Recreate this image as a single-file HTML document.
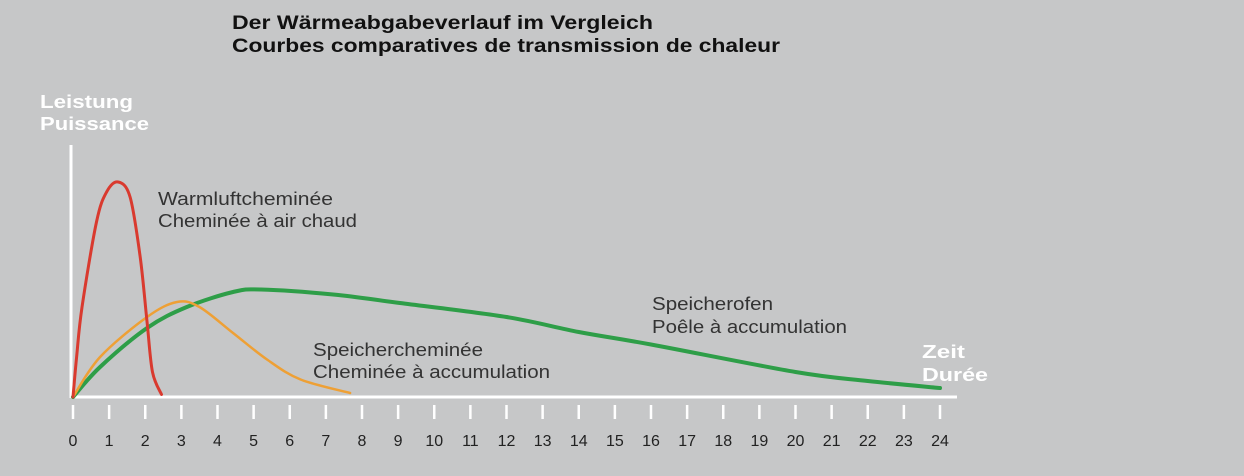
<!DOCTYPE html>
<html><head><meta charset="utf-8"><style>
body{margin:0;background:#c6c7c8;}
svg{display:block;font-family:"Liberation Sans",sans-serif;}
</style></head><body>
<svg width="1244" height="476" viewBox="0 0 1244 476">
<rect width="1244" height="476" fill="#c6c7c8"/>
<text x="232" y="29" font-size="19" font-weight="bold" fill="#111" textLength="421" lengthAdjust="spacingAndGlyphs">Der Wärmeabgabeverlauf im Vergleich</text>
<text x="232" y="52" font-size="19" font-weight="bold" fill="#111" textLength="548" lengthAdjust="spacingAndGlyphs">Courbes comparatives de transmission de chaleur</text>
<text x="40" y="108" font-size="18" font-weight="bold" fill="#fff" textLength="93" lengthAdjust="spacingAndGlyphs">Leistung</text>
<text x="40" y="130" font-size="18" font-weight="bold" fill="#fff" textLength="109" lengthAdjust="spacingAndGlyphs">Puissance</text>
<text x="922" y="358" font-size="18" font-weight="bold" fill="#fff" textLength="43" lengthAdjust="spacingAndGlyphs">Zeit</text>
<text x="922" y="381" font-size="18" font-weight="bold" fill="#fff" textLength="66" lengthAdjust="spacingAndGlyphs">Durée</text>
<line x1="71" y1="145" x2="71" y2="398" stroke="#fff" stroke-width="3"/>
<line x1="71" y1="397" x2="957" y2="397" stroke="#fff" stroke-width="3"/>
<g id="ticks"></g>
<g id="series"></g>
<text x="158" y="205" font-size="18" fill="#333" textLength="175" lengthAdjust="spacingAndGlyphs">Warmluftcheminée</text>
<text x="158" y="227" font-size="18" fill="#333" textLength="199" lengthAdjust="spacingAndGlyphs">Cheminée à air chaud</text>
<text x="313" y="356" font-size="18" fill="#333" textLength="170" lengthAdjust="spacingAndGlyphs">Speichercheminée</text>
<text x="313" y="378" font-size="18" fill="#333" textLength="237" lengthAdjust="spacingAndGlyphs">Cheminée à accumulation</text>
<text x="652" y="310" font-size="18" fill="#333" textLength="121" lengthAdjust="spacingAndGlyphs">Speicherofen</text>
<text x="652" y="333" font-size="18" fill="#333" textLength="195" lengthAdjust="spacingAndGlyphs">Poêle à accumulation</text>
</svg>
<script>
const tickLabels=[0,1,2,3,4,5,6,7,8,9,10,11,12,13,14,15,16,17,18,19,20,21,22,23,24];
const redT=[0,0.1,0.25,0.65,0.93,1.25,1.58,1.86,2.05,2.2,2.45];
const redV=[0,16,36,70,82,86,80,56,30,10,1];
const orangeT=[0,0.75,2.05,2.88,3.5,4.43,5.37,6.3,7.67];
const orangeV=[0,16,32,38,36,25.6,15,7,1.6];
const greenT=[0,0.75,2.05,3.15,4.43,5.2,7.2,9.05,12,14,16,20,22,24];
const greenV=[0,12,27.6,36,42,43,41,37.6,32,26,21,10,6.4,3.6];
const NS="http://www.w3.org/2000/svg";
function xs(t){return 73+t*(940-73)/24;}
function ys(v){return 397-v*2.5;}
const tg=document.getElementById('ticks');
tickLabels.forEach(t=>{
 const l=document.createElementNS(NS,'line');
 l.setAttribute('x1',xs(t));l.setAttribute('x2',xs(t));l.setAttribute('y1',405);l.setAttribute('y2',419);
 l.setAttribute('stroke','#fff');l.setAttribute('stroke-width','2.5');
 
 
 tg.appendChild(l);
 const tx=document.createElementNS(NS,'text');
 tx.setAttribute('x',xs(t));tx.setAttribute('y',446);tx.setAttribute('text-anchor','middle');
 tx.setAttribute('font-size','16');tx.setAttribute('fill','#222');tx.textContent=t;
 
 
 tg.appendChild(tx);
});
function path(T,V){
 const p=T.map((t,i)=>[xs(t),ys(V[i])]);
 let d='M'+p[0][0]+','+p[0][1];
 for(let i=0;i<p.length-1;i++){
  const p0=p[i-1]||p[i],p1=p[i],p2=p[i+1],p3=p[i+2]||p2;
  const c1=[p1[0]+(p2[0]-p0[0])/6,p1[1]+(p2[1]-p0[1])/6];
  const c2=[p2[0]-(p3[0]-p1[0])/6,p2[1]-(p3[1]-p1[1])/6];
  d+=' C'+c1+' '+c2+' '+p2;
 }
 return d;
}
const sg=document.getElementById('series');
[[greenT,greenV,'#2e9e48',4,'speicherofen-line'],[orangeT,orangeV,'#eea035',2.5,'speichercheminee-line'],[redT,redV,'#d93a2f',3,'warmluft-line']].forEach(s=>{
 const e=document.createElementNS(NS,'path');
 e.setAttribute('d',path(s[0],s[1]));e.setAttribute('fill','none');
 e.setAttribute('stroke',s[2]);e.setAttribute('stroke-width',s[3]);e.setAttribute('stroke-linecap','round');
 
 
 sg.appendChild(e);
});
</script>
</body></html>
